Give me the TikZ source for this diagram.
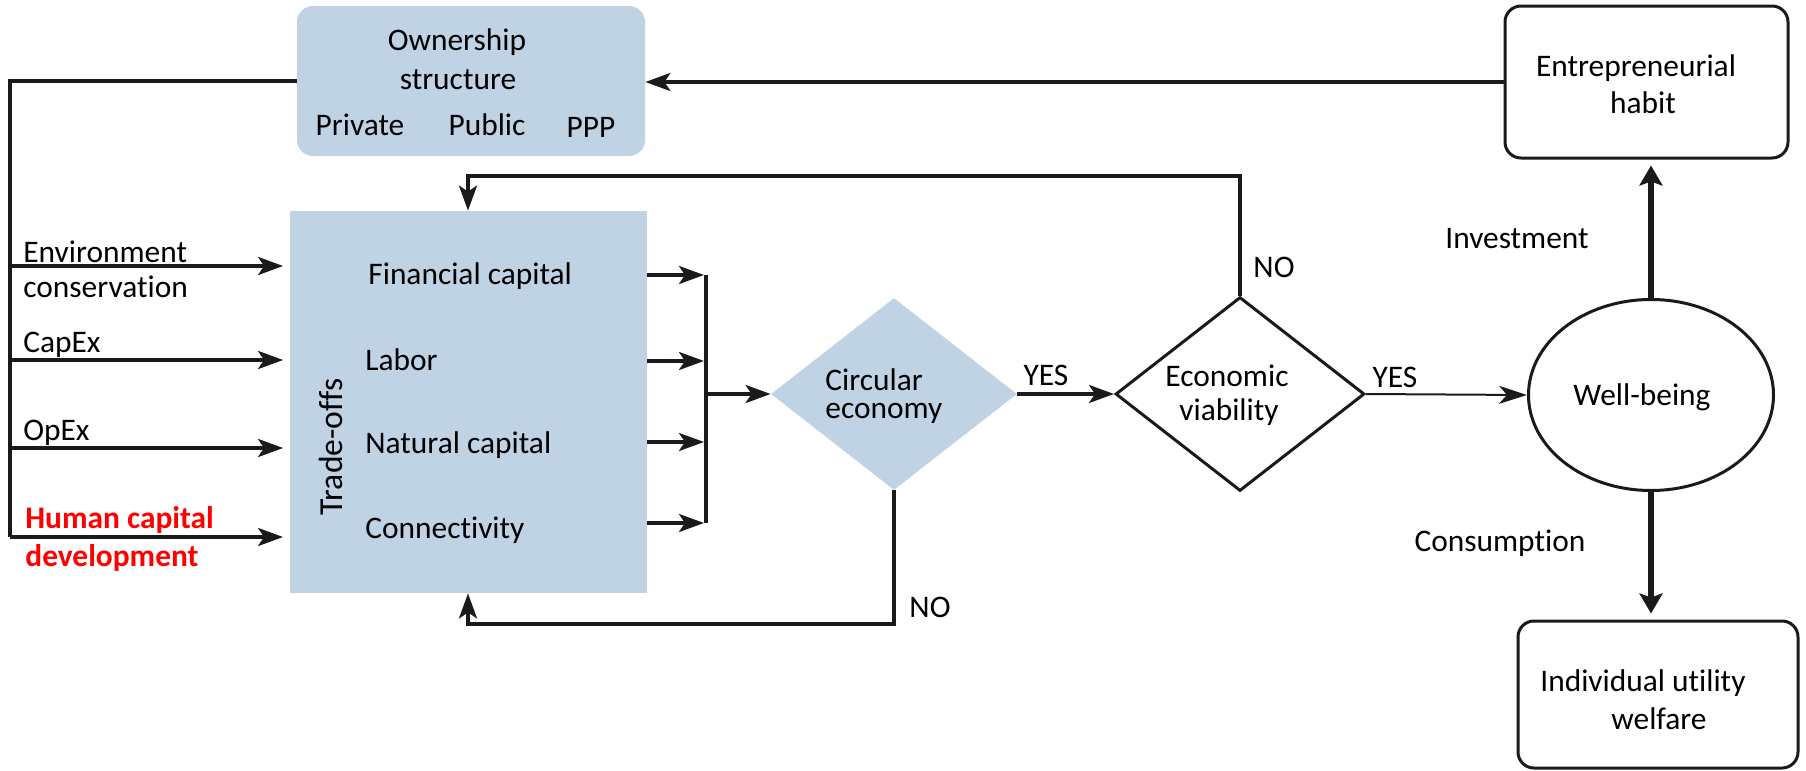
\documentclass[tikz,border=0pt]{standalone}
\usepackage{fontspec}
\setmainfont{Carlito}[RawFeature={-liga;-clig;-dlig}]
\usetikzlibrary{shapes.geometric,arrows.meta}
\definecolor{lblue}{RGB}{192,211,228}
\definecolor{ink}{RGB}{26,26,26}
\definecolor{hred}{RGB}{255,0,0}
\begin{document}
\begin{tikzpicture}[x=0.5pt,y=-0.5pt,
  font=\fontsize{15.7}{19}\selectfont,
  lbl/.style={inner sep=0pt, text=black},
  lblw/.style={lbl, anchor=west},
  line/.style={draw=ink, line width=1.7pt},
  conn/.style={line, -{Stealth[length=12.5pt,width=9pt,inset=3pt]}},
  thickconn/.style={draw=ink, line width=2.6pt, -{Stealth[length=10pt,width=11.5pt,inset=2pt]}},
  thinconn/.style={draw=ink, line width=1pt, -{Stealth[length=14pt,width=9pt,inset=4pt]}},
  bluebox/.style={fill=lblue, inner sep=0pt},
  whitebox/.style={draw=ink, line width=1.5pt, fill=white, rounded corners=8pt, inner sep=0pt}]
\useasboundingbox (0,0) rectangle (1806,771);

% ---- shapes
\node[bluebox, rounded corners=8pt, minimum width=174pt, minimum height=75pt] (own) at (471,81) {};
\node[bluebox, minimum width=178.5pt, minimum height=191pt] (trade) at (468,402) {};
\node[bluebox, diamond, minimum width=123pt, minimum height=96pt] (circ) at (894,394) {};
\node[diamond, draw=ink, line width=1.5pt, inner sep=0pt, minimum width=124.5pt, minimum height=97pt] (econ) at (1240,394) {};
\node[ellipse, draw=ink, line width=1.5pt, inner sep=0pt, minimum width=122.5pt, minimum height=95.5pt] (wb) at (1651,395) {};
\node[whitebox, minimum width=141.5pt, minimum height=76pt] (ent) at (1646.5,82) {};
\node[whitebox, minimum width=140pt, minimum height=73.5pt] (ind) at (1658,694.5) {};

% ---- texts
\node[lbl] (ot1) at (457,42) {Ownership};
\node[lbl] (ot2) at (458,80) {structure};
\node[lbl] (ot3) at (360,125) {Private};
\node[lbl] (ot4) at (487,125) {Public};
\node[lbl] (ot5) at (591,127) {PPP};

\node[lblw] (l1) at (23,252) {Environment};
\node[lblw] (l2) at (23,287) {conservation};
\node[lblw] (l3) at (23,345) {CapEx};
\node[lblw] (l4) at (23,433) {OpEx};
\node[lblw, text=hred, font=\fontsize{15.7}{19}\selectfont\bfseries] (l5) at (25,520) {Human capital};
\node[lblw, text=hred, font=\fontsize{15.7}{19}\selectfont\bfseries] (l6) at (25,558) {development};

\node[lbl, rotate=90, font=\fontsize{16.8}{19}\selectfont] (tro) at (331,447) {Trade-offs};
\node[lblw] (t1) at (368,276) {Financial capital};
\node[lblw] (t2) at (365,360) {Labor};
\node[lblw] (t3) at (365,445) {Natural capital};
\node[lblw] (t4) at (365,530) {Connectivity};

\node[lblw, align=left, font=\fontsize{15.7}{14}\selectfont] (ce) at (825,396) {Circular\\economy};
\node[lbl] (e1) at (1227,376) {Economic};
\node[lbl] (e2) at (1229,412) {viability};

\node[lbl] (yes1) at (1046,375) {YES};
\node[lbl] (yes2) at (1395,377) {YES};
\node[lbl] (no1) at (1274,267) {NO};
\node[lbl] (no2) at (930,607) {NO};

\node[lbl] (en1) at (1636,68) {Entrepreneurial};
\node[lbl] (en2) at (1643,103) {habit};
\node[lbl] (wbt) at (1642,397) {Well-being};
\node[lbl] (inv) at (1517,239) {Investment};
\node[lbl] (con) at (1500,543) {Consumption};
\node[lbl] (in1) at (1643,683) {Individual utility};
\node[lbl] (in2) at (1659,719) {welfare};

% ---- coordinates
\coordinate (lb) at (10,537);
\coordinate (i1) at (10,266);
\coordinate (i2) at (10,360);
\coordinate (i3) at (10,448);
\coordinate (i4) at (10,537);
\coordinate (o1) at (706,275);
\coordinate (o2) at (706,361);
\coordinate (o3) at (706,442);
\coordinate (o4) at (706,523);
\coordinate (om) at (706,394);
\coordinate (nt) at (468,176);
\coordinate (nb) at (468,624);

% ---- connectors
\draw[line] (own.west) -| (lb);
\foreach \c in {i1,i2,i3,i4}
  \draw[conn, shorten >=3pt] (\c) -- (\c -| trade.west);
\foreach \c in {o1,o2,o3,o4}
  \draw[conn, shorten >=1pt] (\c -| trade.east) -- (\c);
\draw[line] (o1) -- (o4);
\draw[conn] (om) -- (circ.west);
\draw[conn] (circ.east) -- (econ.west);
\draw[thinconn] (econ.east) -- (wb.west);
\draw[conn] (econ.north) |- (nt) -- (nt |- trade.north);
\draw[conn] (circ.south) |- (nb) -- (nb |- trade.south);
\draw[conn] (ent.west) -- (ent.west -| own.east);
\draw[thickconn, shorten >=3pt] (wb.north) -- (wb.north |- ent.south);
\draw[thickconn, shorten >=3pt] (wb.south) -- (wb.south |- ind.north);
\end{tikzpicture}
\end{document}
